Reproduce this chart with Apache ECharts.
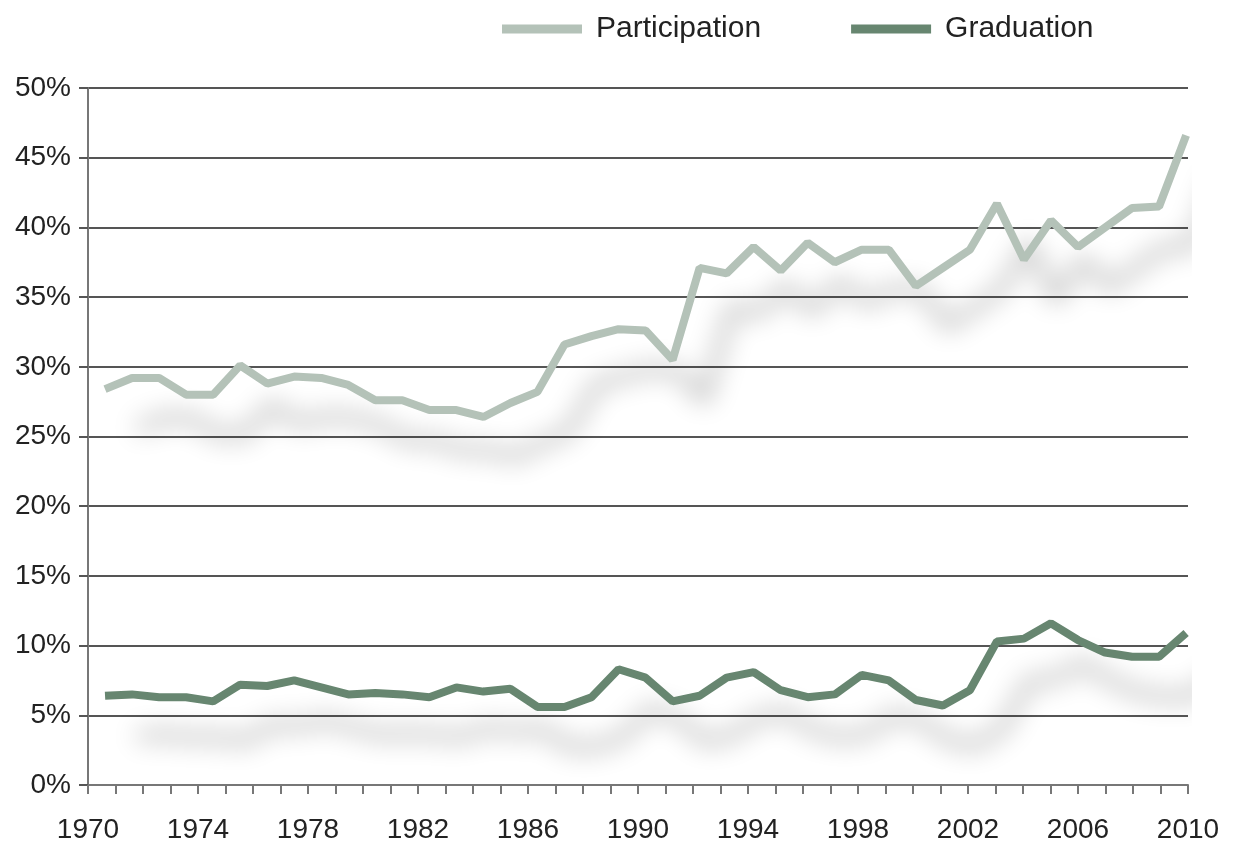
<!DOCTYPE html>
<html>
<head>
<meta charset="utf-8">
<script src="https://cdn.jsdelivr.net/npm/echarts@6/dist/echarts.min.js"></script>
<style>
  html, body { margin: 0; padding: 0; background: #fff; }
  #chart { width: 1235px; height: 844px; }
</style>
</head>
<body>
<div id="chart"></div>
<script>
// years 1970..2010, one value per year
var years = [];
for (var y = 1970; y <= 2010; y++) years.push(y);

var participation = [
  28.4, 29.2, 29.2, 28.0, 28.0, 30.1, 28.8, 29.3, 29.2, 28.7,
  27.6, 27.6, 26.9, 26.9, 26.4, 27.4, 28.2, 31.6, 32.2, 32.7,
  32.6, 30.5, 37.1, 36.7, 38.6, 36.9, 38.9, 37.5, 38.4, 38.4,
  35.8, 37.1, 38.4, 41.7, 37.7, 40.5, 38.6, 40.0, 41.4, 41.5,
  46.6
];
var graduation = [
  6.4, 6.5, 6.3, 6.3, 6.0, 7.2, 7.1, 7.5, 7.0, 6.5,
  6.6, 6.5, 6.3, 7.0, 6.7, 6.9, 5.6, 5.6, 6.3, 8.3,
  7.7, 6.0, 6.4, 7.7, 8.1, 6.8, 6.3, 6.5, 7.9, 7.5,
  6.1, 5.7, 6.8, 10.3, 10.5, 11.6, 10.4, 9.5, 9.2, 9.2,
  10.9
];

var pColor = '#b4c2b8';
var gColor = '#678670';
var font = 'Liberation Sans';

var chart = echarts.init(document.getElementById('chart'));

function pairs(vals) {
  return vals.map(function (v, i) { return [years[i], v]; });
}

function lineSeries(name, vals, color) {
  return {
    name: name,
    type: 'line',
    xAxisIndex: 0,
    data: pairs(vals),
    symbol: 'none',
    clip: false,
    animation: false,
    lineStyle: {
      color: color,
      width: 8,
      shadowColor: 'rgba(0,0,0,0.33)',
      shadowBlur: 26,
      shadowOffsetX: 32,
      shadowOffsetY: 40
    },
    itemStyle: { color: color }
  };
}

chart.setOption({
  animation: false,
  legend: {
    left: 497,
    top: 9,
    icon: 'rect',
    itemWidth: 80,
    itemHeight: 9,
    itemGap: 90,
    textStyle: { fontFamily: font, fontSize: 30, color: '#222', padding: [0, 0, 0, 9] },
    data: ['Participation', 'Graduation']
  },
  grid: { left: 88, right: 47, top: 88, bottom: 59, containLabel: false },
  xAxis: [
    {
      // data axis: points sit a little inside the label axis
      type: 'value',
      min: 1969.37,
      max: 2010.07,
      show: false
    },
    {
      type: 'value',
      min: 1970,
      max: 2010,
      interval: 1,
      position: 'bottom',
      axisLine: { show: true, lineStyle: { color: '#777', width: 2 } },
      axisTick: { show: true, length: 9, lineStyle: { color: '#777', width: 2 } },
      splitLine: { show: false },
      axisLabel: {
        fontFamily: font,
        fontSize: 28,
        color: '#222',
        margin: 31,
        formatter: function (v) { return (v - 1970) % 4 === 0 ? String(v) : ''; }
      }
    }
  ],
  yAxis: {
    type: 'value',
    min: 0,
    max: 50,
    interval: 5,
    axisLine: { show: true, lineStyle: { color: '#777', width: 2 } },
    axisTick: { show: true, length: 9, lineStyle: { color: '#555', width: 2 } },
    splitLine: { show: true, lineStyle: { color: '#555', width: 2 } },
    axisLabel: {
      fontFamily: font,
      fontSize: 28,
      color: '#222',
      margin: 17,
      formatter: '{value}%'
    }
  },
  series: [
    lineSeries('Participation', participation, pColor),
    lineSeries('Graduation', graduation, gColor)
  ]
});
</script>
</body>
</html>
